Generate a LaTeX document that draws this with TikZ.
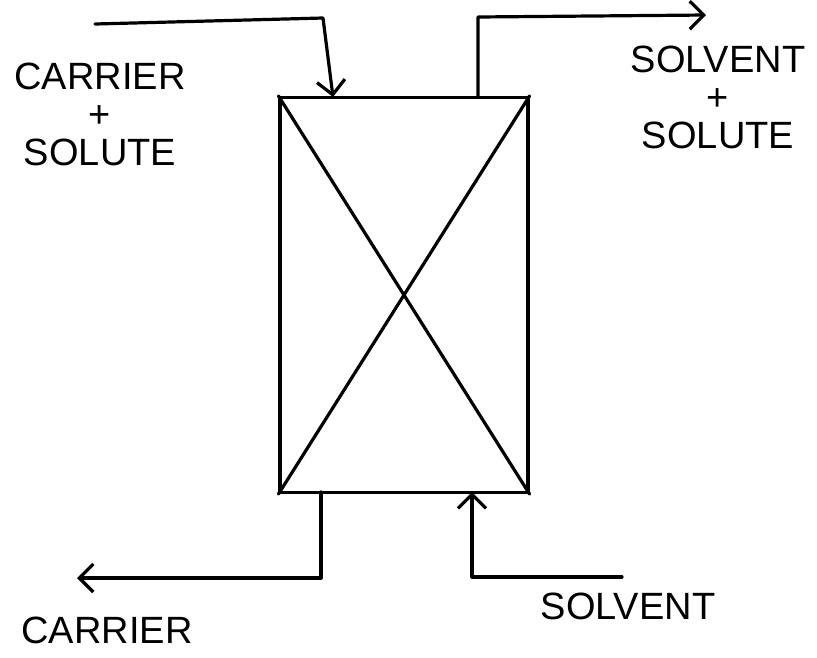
\documentclass[tikz,border=0pt]{standalone}
\usepackage{fontspec}
\setmainfont{Liberation Sans}
\usetikzlibrary{arrows.meta}
\begin{document}
\begin{tikzpicture}[x=1pt,y=-1pt,
  line width=3.2pt, line cap=round, line join=round,
  flow/.style={draw, -{Straight Barb[length=14pt,width=28pt,line width=3.2pt]}},
  lbl/.style={font=\fontsize{38}{38}\selectfont, align=center, inner sep=0pt}]
\useasboundingbox (0,0) rectangle (817,657);
% box
\node[draw, minimum width=248pt, minimum height=395pt, inner sep=0pt] (box) at (404,295) {};
\draw (box.north west) -- (box.south east);
\draw (box.north east) -- (box.south west);
% ports
\coordinate (inT) at (333,97);
\coordinate (outT) at (478,97);
\coordinate (outB) at (321,492);
\coordinate (inB) at (472,492);
% free ends
\coordinate (srcTL) at (95,24);
\coordinate (dstTR) at (706,15);
\coordinate (dstBL) at (77,578);
\coordinate (srcBR) at (622,577);
% connectors
\draw[flow] (srcTL) -- (323,18) -- (inT);
\draw[flow] (outT) -- (478,17) -- (dstTR);
\draw[flow] (outB) -- (321,578) -- (dstBL);
\draw[flow] (srcBR) -- (472,577) -- (inB);
% labels
\node[lbl] (l1) at (100,114) {CARRIER\\+\\SOLUTE};
\node[lbl] (l2) at (718,97) {SOLVENT\\+\\SOLUTE};
\node[lbl] (l3) at (107,630) {CARRIER};
\node[lbl] (l4) at (628,606) {SOLVENT};
\end{tikzpicture}
\end{document}
